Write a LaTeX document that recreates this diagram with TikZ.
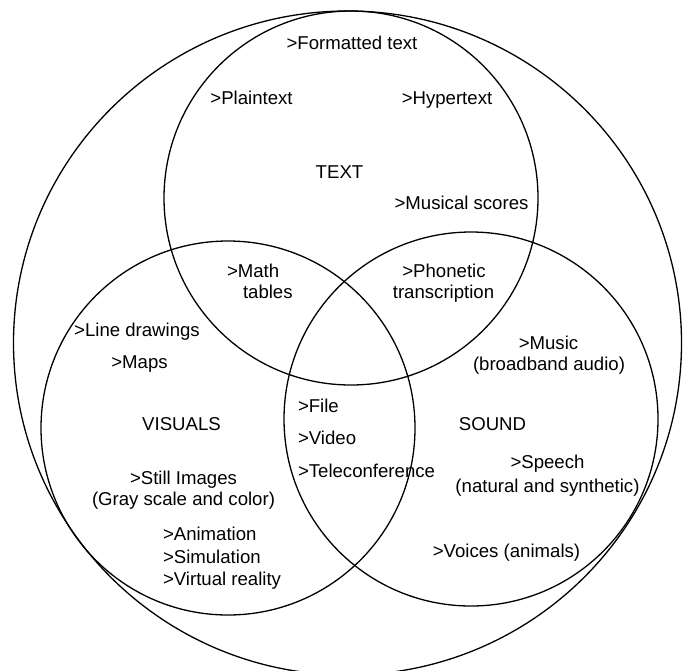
\documentclass[tikz,border=0pt]{standalone}
\usepackage{fontspec}
\setmainfont{Liberation Sans}
\tikzset{
  ring/.style={draw=black, line width=1.3pt, fill=none},
  lbl/.style={inner sep=0pt, outer sep=0pt, anchor=base, font=\fontsize{18.6}{22}\selectfont},
  lblw/.style={lbl, anchor=base west}
}
\begin{document}
\begin{tikzpicture}[x=1pt,y=-1pt]
\useasboundingbox (0,0) rectangle (684,670);
% circles
\draw[ring] (347.5,343) ellipse [x radius=334, y radius=332];
\draw[ring] (351,198) circle [radius=187];
\draw[ring] (228,428) circle [radius=187];
\draw[ring] (471,419) circle [radius=187];
% TEXT
\node[lbl] (fmt) at (352,49.5) {>Formatted text};
\node[lbl] (plain) at (251.5,104.5) {>Plaintext};
\node[lbl] (hyper) at (447,104.5) {>Hypertext};
\node[lbl] (text) at (339.5,178.5) {TEXT};
\node[lbl] (scores) at (461.5,209.5) {>Musical scores};
% TEXT & VISUALS
\node[lblw] (math) at (227,277) {>Math};
\node[lblw] (tables) at (243,298.5) {tables};
% TEXT & SOUND
\node[lbl] (phon) at (444,277) {>Phonetic};
\node[lbl] (trans) at (443.5,298.5) {transcription};
% VISUALS
\node[lbl] (line) at (137,336.5) {>Line drawings};
\node[lbl] (maps) at (139.5,368.5) {>Maps};
\node[lbl] (visuals) at (181.5,430.5) {VISUALS};
\node[lbl] (still) at (183.5,484.5) {>Still Images};
\node[lbl] (gray) at (183.5,505.5) {(Gray scale and color)};
\node[lblw] (anim) at (163,540.5) {>Animation};
\node[lblw] (sim) at (163,563) {>Simulation};
\node[lblw] (vr) at (163,585.5) {>Virtual reality};
% ALL THREE
\node[lblw] (file) at (298,412.5) {>File};
\node[lblw] (video) at (298,444.5) {>Video};
\node[lblw] (tele) at (298,477) {>Teleconference};
% SOUND
\node[lbl] (music) at (548.5,349) {>Music};
\node[lbl] (broad) at (549,370.5) {(broadband audio)};
\node[lbl] (sound) at (492.5,430.5) {SOUND};
\node[lbl] (speech) at (547.5,468) {>Speech};
\node[lbl] (natural) at (547.5,492.5) {(natural and synthetic)};
\node[lbl] (voices) at (506.5,557) {>Voices (animals)};
\end{tikzpicture}
\end{document}
